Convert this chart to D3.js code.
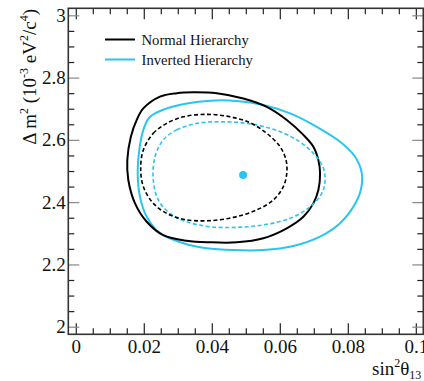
<!DOCTYPE html>
<html><head><meta charset="utf-8">
<script src="https://cdn.jsdelivr.net/npm/d3@7"></script>
<style>html,body{margin:0;padding:0;background:#fff;}svg{display:block;}</style>
</head><body>
<svg id="c" width="424" height="381"></svg>
<script>
// ---- data ----
const xMajorTicks = [0, 0.02, 0.04, 0.06, 0.08, 0.1];
const xTickLabels = ["0", "0.02", "0.04", "0.06", "0.08", "0.1"];
const yMajorTicks = [2, 2.2, 2.4, 2.6, 2.8, 3];
const yTickLabels = ["2", "2.2", "2.4", "2.6", "2.8", "3"];
const legendLabels = ["Normal Hierarchy", "Inverted Hierarchy"];
const bestFit = [0.0492, 2.487];

// Normal hierarchy, outer (solid) contour [sin^2 theta13, dm^2]
const nhOuter = [[0.01986,2.701],[0.02477,2.739],[0.02969,2.750],[0.03457,2.753],[0.04145,2.750],[0.04928,2.733],[0.05616,2.706],[0.06205,2.664],[0.06693,2.616],[0.06987,2.578],[0.07134,2.535],[0.07184,2.493],[0.07134,2.439],[0.06987,2.396],[0.06693,2.353],[0.06205,2.316],[0.05516,2.284],[0.04734,2.271],[0.03948,2.271],[0.03263,2.276],[0.02574,2.294],[0.02086,2.337],[0.01742,2.396],[0.01545,2.471],[0.01515,2.535],[0.01620,2.610],[0.01792,2.664]];
// Normal hierarchy, inner (dashed) contour
const nhInner = [[0.01986,2.567],[0.0228,2.621],[0.02674,2.653],[0.03163,2.674],[0.03851,2.682],[0.04537,2.674],[0.05125,2.655],[0.05616,2.621],[0.06008,2.578],[0.06184,2.535],[0.06205,2.493],[0.06105,2.450],[0.0581,2.407],[0.05322,2.375],[0.04634,2.351],[0.03851,2.340],[0.03163,2.345],[0.02674,2.364],[0.0228,2.396],[0.01986,2.450],[0.01909,2.509]];
// Inverted hierarchy, outer (solid) contour
const ihOuter = [[0.02183,2.674],[0.02674,2.701],[0.03263,2.717],[0.03948,2.726],[0.04734,2.725],[0.05516,2.712],[0.06302,2.685],[0.07087,2.642],[0.07773,2.594],[0.08214,2.546],[0.08411,2.493],[0.08382,2.439],[0.08164,2.385],[0.07773,2.332],[0.07184,2.289],[0.06399,2.259],[0.05516,2.246],[0.04634,2.246],[0.03851,2.252],[0.03163,2.268],[0.02477,2.300],[0.02086,2.353],[0.01889,2.417],[0.01821,2.493],[0.01868,2.567],[0.01986,2.632]];
// Inverted hierarchy, inner (dashed) contour
const ihInner = [[0.02574,2.600],[0.02969,2.632],[0.03557,2.653],[0.04242,2.658],[0.05028,2.653],[0.0581,2.634],[0.06499,2.600],[0.06987,2.557],[0.07264,2.514],[0.07332,2.471],[0.07234,2.428],[0.0689,2.385],[0.06302,2.348],[0.05516,2.327],[0.04734,2.319],[0.03948,2.321],[0.03263,2.337],[0.02771,2.364],[0.02427,2.407],[0.0228,2.471],[0.0233,2.546]];

// ---- layout ----
const L = 68.3, R = 423.3, T = 8.3, B = 334.3;
const BLACK = "#000", CYAN = "#29c5f0";
const serif = "'Liberation Serif','Times New Roman',serif";

const svg = d3.select("#c");
const x = d3.scaleLinear().domain([-0.0022, 0.1022]).range([L, R]);
const y = d3.scaleLinear().domain([1.9756, 3.0225]).range([B, T]);

const xMinor = d3.range(0, 0.1001, 0.005).filter(v => Math.abs(v*50 - Math.round(v*50)) > 1e-6);
const yMinor = d3.range(2, 3.0001, 0.05).filter(v => Math.abs(v*5 - Math.round(v*5)) > 1e-6);

function styleAxis(g, col) {
  g.select(".domain").remove();
  g.selectAll(".tick line").attr("stroke", col).attr("stroke-width", 1.2);
  g.selectAll("text").attr("font-family", serif).attr("font-size", 19).attr("fill", "#111");
}

// bottom major with labels
svg.append("g").attr("transform", `translate(0,${B})`)
  .call(d3.axisBottom(x).tickValues(xMajorTicks).tickFormat((d,i) => xTickLabels[i]).tickSizeInner(-11).tickSizeOuter(0).tickPadding(5))
  .call(g => styleAxis(g, "#222"));
svg.append("g").attr("transform", `translate(0,${B})`)
  .call(d3.axisBottom(x).tickValues(xMinor).tickFormat("").tickSizeInner(-6).tickSizeOuter(0))
  .call(g => styleAxis(g, "#222"));
// top mirror
svg.append("g").attr("transform", `translate(0,${T})`)
  .call(d3.axisTop(x).tickValues(xMajorTicks).tickFormat("").tickSizeInner(-11).tickSizeOuter(0))
  .call(g => styleAxis(g, "#222"));
svg.append("g").attr("transform", `translate(0,${T})`)
  .call(d3.axisTop(x).tickValues(xMinor).tickFormat("").tickSizeInner(-6).tickSizeOuter(0))
  .call(g => styleAxis(g, "#222"));
// left major with labels
svg.append("g").attr("transform", `translate(${L},0)`)
  .call(d3.axisLeft(y).tickValues(yMajorTicks).tickFormat((d,i) => yTickLabels[i]).tickSizeInner(-11).tickSizeOuter(0).tickPadding(2.5))
  .call(g => styleAxis(g, "#888"));
svg.append("g").attr("transform", `translate(${L},0)`)
  .call(d3.axisLeft(y).tickValues(yMinor).tickFormat("").tickSizeInner(-6).tickSizeOuter(0))
  .call(g => styleAxis(g, "#222"));
// right mirror
svg.append("g").attr("transform", `translate(${R},0)`)
  .call(d3.axisRight(y).tickValues(yMajorTicks).tickFormat("").tickSizeInner(-11).tickSizeOuter(0))
  .call(g => styleAxis(g, "#888"));
svg.append("g").attr("transform", `translate(${R},0)`)
  .call(d3.axisRight(y).tickValues(yMinor).tickFormat("").tickSizeInner(-6).tickSizeOuter(0))
  .call(g => styleAxis(g, "#222"));

// frame
svg.append("rect").attr("x", L).attr("y", T).attr("width", R - L).attr("height", B - T)
  .attr("fill", "none").attr("stroke", "#333").attr("stroke-width", 1.6);

// contours
const line = d3.line().x(d => x(d[0])).y(d => y(d[1])).curve(d3.curveCatmullRomClosed.alpha(0.5));
const contours = [
  {data: ihOuter, color: CYAN, dash: null, w: 2},
  {data: nhOuter, color: BLACK, dash: null, w: 2},
  {data: ihInner, color: CYAN, dash: "4,2.5", w: 1.6},
  {data: nhInner, color: BLACK, dash: "4,2.5", w: 1.6}
];
contours.forEach(c => {
  svg.append("path").attr("d", line(c.data)).attr("fill", "none")
    .attr("stroke", c.color).attr("stroke-width", c.w)
    .attr("stroke-dasharray", c.dash);
});

// best fit point
svg.append("circle").attr("cx", x(bestFit[0])).attr("cy", y(bestFit[1])).attr("r", 4).attr("fill", CYAN);

// legend
const legColors = [BLACK, CYAN];
legendLabels.forEach((lab, i) => {
  const by = 45 + i * 20;
  svg.append("line").attr("x1", 105).attr("x2", 135).attr("y1", by - 5.5).attr("y2", by - 5.5)
    .attr("stroke", legColors[i]).attr("stroke-width", 2);
  svg.append("text").attr("x", 141.5).attr("y", by).attr("font-family", serif).attr("font-size", 14.7)
    .attr("fill", "#111").text(lab);
});

// x title
const xt = svg.append("text").attr("x", 372).attr("y", 375).attr("font-family", serif).attr("font-size", 19).attr("fill", "#111");
xt.append("tspan").text("sin");
xt.append("tspan").attr("font-size", 12).attr("dy", -8).text("2");
xt.append("tspan").attr("dy", 8).text("θ");
xt.append("tspan").attr("font-size", 12).attr("dy", 4).text("13");

// y title
const yt = svg.append("text").attr("transform", "translate(35.5,9) rotate(-90)").attr("text-anchor", "end")
  .attr("font-family", serif).attr("font-size", 19).attr("fill", "#111");
yt.append("tspan").text("Δ m");
yt.append("tspan").attr("font-size", 12).attr("dy", -8).text("2");
yt.append("tspan").attr("dy", 8).text(" (10");
yt.append("tspan").attr("font-size", 12).attr("dy", -8).text("-3");
yt.append("tspan").attr("dy", 8).text(" eV");
yt.append("tspan").attr("font-size", 12).attr("dy", -8).text("2");
yt.append("tspan").attr("dy", 8).text("/c");
yt.append("tspan").attr("font-size", 12).attr("dy", -8).text("4");
yt.append("tspan").attr("dy", 8).text(")");
</script>
</body></html>
